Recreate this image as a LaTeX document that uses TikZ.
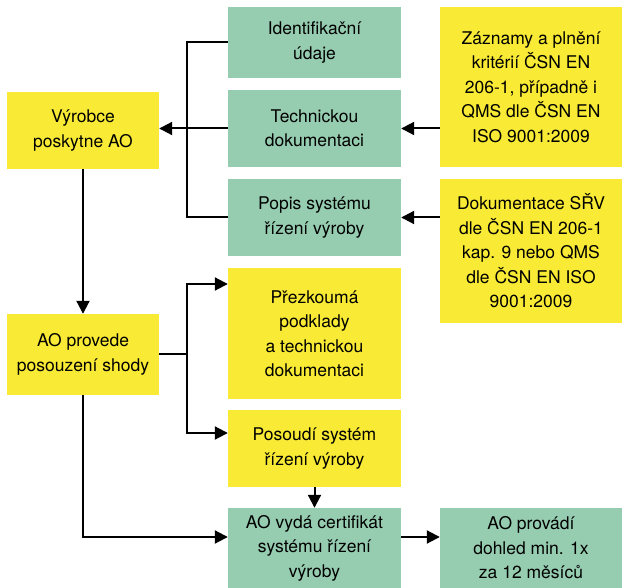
\documentclass[tikz,border=0pt]{standalone}
\usepackage{fontspec}
\setmainfont{TeX Gyre Heros}
\usetikzlibrary{arrows.meta}
\definecolor{boxgreen}{HTML}{96CDB0}
\definecolor{boxyellow}{HTML}{F9EB35}

\begin{document}
\begin{tikzpicture}[x=1pt,y=-1pt,
  blok/.style={inner sep=0pt,align=center,font=\fontsize{17.5}{24.5}\selectfont},
  gbox/.style={blok,fill=boxgreen},
  ybox/.style={blok,fill=boxyellow},
  spoj/.style={line width=2pt},
  sip/.style={spoj,-{Triangle[length=13pt,width=13pt]}}]
\useasboundingbox (0,0) rectangle (622,588);

% levy sloupec
\node[ybox,minimum width=152,minimum height=77] (vyrobce) at (83,130.5) {Výrobce\\poskytne AO};
\node[ybox,minimum width=152,minimum height=81] (provede) at (83,354.5) {AO provede\\posouzení shody};

% prostredni sloupec
\node[gbox,minimum width=173,minimum height=71] (ident) at (314.5,42.5) {Identifikační\\údaje};
\node[gbox,minimum width=173,minimum height=77] (tech) at (314.5,128.5) {Technickou\\dokumentaci};
\node[gbox,minimum width=173,minimum height=77] (popis) at (314.5,217.5) {Popis systému\\řízení výroby};
\node[ybox,minimum width=173,minimum height=131] (prezkum) at (314.5,333.5) {Přezkoumá\\podklady\\a technickou\\dokumentaci};
\node[ybox,minimum width=173,minimum height=77] (posoudi) at (314.5,448.5) {Posoudí systém\\řízení výroby};
\node[gbox,minimum width=173,minimum height=80] (vyda) at (314.5,548) {AO vydá certifikát\\systému řízení\\výroby};

% pravy sloupec
\node[ybox,minimum width=182,minimum height=160] (zaznamy) at (531,87) {Záznamy a plnění\\kritérií ČSN EN\\206-1, případně i\\QMS dle ČSN EN\\ISO 9001:2009};
\node[ybox,minimum width=182,minimum height=144] (dokum) at (531,251) {Dokumentace SŘV\\dle ČSN EN 206-1\\kap. 9 nebo QMS\\dle ČSN EN ISO\\9001:2009};
\node[gbox,minimum width=182,minimum height=80] (dohled) at (531,548) {AO provádí\\dohled min. 1x\\za 12 měsíců};

% spojnice
\draw[spoj] (ident.west) -- ++(-41,0) |- (popis.west);
\draw[sip] (tech.west) -- (tech.west -| vyrobce.east);
\draw[sip] (zaznamy.west |- tech.east) -- (tech.east);
\draw[sip] (dokum.west |- popis.east) -- (popis.east);
\draw[sip] (vyrobce.south) -- (provede.north);
\draw[sip] (provede.east) -- ++(28,0) |- ([yshift=49.5pt]prezkum.west);
\draw[sip] (provede.east) -- ++(28,0) |- ([yshift=15.5pt]posoudi.west);
\draw[sip] (provede.south) |- ([yshift=11pt]vyda.west);
\draw[sip] (posoudi.south) -- (vyda.north);
\draw[sip] ([yshift=11pt]vyda.east) -- ([yshift=11pt]dohled.west);
\end{tikzpicture}
\end{document}
